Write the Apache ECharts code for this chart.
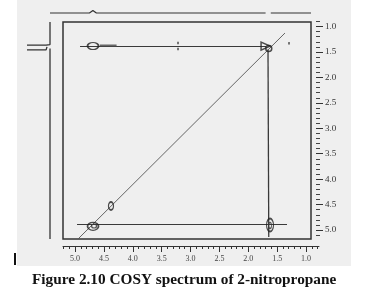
<!DOCTYPE html>
<html><head><meta charset="utf-8">
<script src="https://cdn.jsdelivr.net/npm/echarts@6/dist/echarts.min.js"></script>
<style>html,body{margin:0;padding:0;background:#fff}#c{width:377px;height:301px}</style>
</head><body><div id="c"></div>
<script>
// ---- axis ticks (ppm) ----
const xMajorTicks = [5.0, 4.5, 4.0, 3.5, 3.0, 2.5, 2.0, 1.5, 1.0];
const xMinorTicks = [5.2, 5.1, 4.9, 4.8, 4.7, 4.6, 4.4, 4.3, 4.2, 4.1, 3.9, 3.8, 3.7, 3.6, 3.4, 3.3, 3.2, 3.1, 2.9, 2.8, 2.7, 2.6, 2.4, 2.3, 2.2, 2.1, 1.9, 1.8, 1.7, 1.6, 1.4, 1.3, 1.2, 1.1, 0.9, 0.8];
const yMajorTicks = [1.0, 1.5, 2.0, 2.5, 3.0, 3.5, 4.0, 4.5, 5.0];
const yMinorTicks = [0.9, 1.1, 1.2, 1.3, 1.4, 1.6, 1.7, 1.8, 1.9, 2.1, 2.2, 2.3, 2.4, 2.6, 2.7, 2.8, 2.9, 3.1, 3.2, 3.3, 3.4, 3.6, 3.7, 3.8, 3.9, 4.1, 4.2, 4.3, 4.4, 4.6, 4.7, 4.8, 4.9, 5.1];

// ---- 2D COSY traces [F2 ppm, F1 ppm] ----
const crossLineTop = [[4.913, 1.393], [1.693, 1.393]];
const crossLineRight = [[1.658, 1.45], [1.645, 5.135]];
const crossLineBottom = [[4.965, 4.89], [1.329, 4.89]];
const diagonalLine = [[4.948, 5.175], [1.364, 1.128]];
const noiseMark = [[4.57, 1.37], [4.28, 1.37]];
const contourPeaks = [[4.688, 1.383], [4.688, 4.925], [4.377, 4.527], [1.623, 4.90], [1.645, 1.43]];
const innerContours = [[4.67, 4.92], [1.623, 4.91]];
const arrowPeak = [[1.70, 1.385]];
const specks = [[3.216, 1.324], [3.216, 1.442], [1.294, 1.33]];

// ---- 1D projections ----
const topTraceA = [[5.433, 0], [4.75, 0], [4.72, 0.15], [4.69, 0.25], [4.66, 0.15], [4.63, 0], [1.70, 0]];
const topTraceB = [[1.61, 0], [0.913, 0]];
const leftTraceA = [[0, 0.912], [0, 1.355], [0.13, 1.365], [0.767, 1.365]];
const leftTraceB = [[0.767, 1.46], [0.13, 1.46], [0.1, 1.40]];
const leftTraceC = [[0, 1.43], [0, 5.175]];

const chart = echarts.init(document.getElementById('c'), null, {renderer: 'canvas'});
const serif = 'Liberation Serif';
const lineS = (data, xi, yi, color, width) => ({
  type: 'line', data, xAxisIndex: xi, yAxisIndex: yi, symbol: 'none', showSymbol: false,
  lineStyle: {color, width}, silent: true, animation: false, z: 3
});
const contourSizes = [[11, 7], [11, 8], [5, 8], [7, 13], [6, 6]];
const innerSizes = [[5, 4], [3, 6]];

chart.setOption({
  animation: false,
  graphic: [
    {type: 'rect', shape: {x: 17, y: 0, width: 334, height: 266}, style: {fill: '#efefef'}, z: -10},
    {type: 'rect', shape: {x: 14, y: 253, width: 2, height: 12}, style: {fill: '#111'}, z: -5}
  ],
  title: {
    text: 'Figure 2.10 COSY spectrum of 2-nitropropane',
    left: 27, top: 268,
    textStyle: {fontFamily: serif, fontWeight: 'bold', fontSize: 15.3, color: '#111'}
  },
  grid: [
    {left: 63, top: 20, width: 256, height: 219, show: false},
    {left: 20, top: 3, width: 299, height: 12, show: false},
    {left: 20, top: 20, width: 30, height: 219, show: false},
    {left: 63, top: 22, width: 248, height: 217, show: true, borderColor: '#333', borderWidth: 1.5, backgroundColor: 'transparent'}
  ],
  xAxis: [
    {type: 'value', gridIndex: 0, min: 0.775, max: 5.2078, inverse: true, position: 'bottom', offset: 7,
     axisLine: {show: true, onZero: false, lineStyle: {color: '#333', width: 1}},
     axisTick: {show: true, customValues: xMinorTicks, length: 3, lineStyle: {color: '#333'}},
     axisLabel: {show: false}, splitLine: {show: false}},
    {type: 'value', gridIndex: 0, min: 0.775, max: 5.2078, inverse: true, position: 'bottom', offset: 7,
     axisLine: {show: false, onZero: false},
     axisTick: {show: true, customValues: xMajorTicks, length: 6, lineStyle: {color: '#333'}},
     axisLabel: {show: true, customValues: xMajorTicks, margin: 9, fontFamily: serif, fontSize: 8, color: '#444',
                 formatter: v => v.toFixed(1)},
     splitLine: {show: false}},
    {type: 'value', gridIndex: 1, min: 0.775, max: 5.9524, inverse: true, show: false},
    {type: 'value', gridIndex: 2, min: 0, max: 1, inverse: true, show: false},
    {type: 'value', gridIndex: 3, min: 0, max: 1, show: false}
  ],
  yAxis: [
    {type: 'value', gridIndex: 0, min: 0.8723, max: 5.1749, inverse: true, position: 'right', offset: -3,
     axisLine: {show: false, onZero: false},
     axisTick: {show: true, customValues: yMinorTicks, length: 4, lineStyle: {color: '#444'}},
     axisLabel: {show: false}, splitLine: {show: false}},
    {type: 'value', gridIndex: 0, min: 0.8723, max: 5.1749, inverse: true, position: 'right', offset: -3,
     axisLine: {show: false, onZero: false},
     axisTick: {show: true, customValues: yMajorTicks, length: 7, lineStyle: {color: '#333'}},
     axisLabel: {show: true, customValues: yMajorTicks, margin: 9, fontFamily: serif, fontSize: 9, color: '#333',
                 formatter: v => v.toFixed(1)},
     splitLine: {show: false}},
    {type: 'value', gridIndex: 1, min: -0.2, max: 1, show: false},
    {type: 'value', gridIndex: 2, min: 0.8723, max: 5.1749, inverse: true, show: false},
    {type: 'value', gridIndex: 3, min: 0, max: 1, show: false}
  ],
  series: [
    lineS(crossLineTop, 0, 0, '#3a3a3a', 1.1),
    lineS(crossLineRight, 0, 0, '#3a3a3a', 1.3),
    lineS(crossLineBottom, 0, 0, '#3a3a3a', 1.1),
    lineS(diagonalLine, 0, 0, '#555', 0.9),
    lineS(noiseMark, 0, 0, '#666', 1.6),
    lineS(topTraceA, 2, 2, '#333', 1.2),
    lineS(topTraceB, 2, 2, '#333', 1.2),
    lineS(leftTraceA, 3, 3, '#333', 1.3),
    lineS(leftTraceB, 3, 3, '#333', 1.3),
    lineS(leftTraceC, 3, 3, '#333', 1.3),
    {type: 'scatter', xAxisIndex: 0, yAxisIndex: 0, silent: true, z: 4,
     data: contourPeaks.map((p, i) => ({value: p, symbolSize: contourSizes[i]})),
     symbol: 'circle', itemStyle: {color: 'rgba(0,0,0,0)', borderColor: '#222', borderWidth: 1.5}},
    {type: 'scatter', xAxisIndex: 0, yAxisIndex: 0, silent: true, z: 4,
     data: innerContours.map((p, i) => ({value: p, symbolSize: innerSizes[i]})),
     symbol: 'circle', itemStyle: {color: 'rgba(0,0,0,0)', borderColor: '#333', borderWidth: 1.2}},
    {type: 'scatter', xAxisIndex: 0, yAxisIndex: 0, silent: true, z: 4, data: arrowPeak,
     symbol: 'triangle', symbolRotate: -90, symbolSize: [8, 9],
     itemStyle: {color: 'rgba(0,0,0,0)', borderColor: '#222', borderWidth: 1.4}},
    {type: 'scatter', xAxisIndex: 0, yAxisIndex: 0, silent: true, z: 4, data: specks,
     symbol: 'rect', symbolSize: [2, 2.5], itemStyle: {color: '#555'}}
  ]
});
</script></body></html>
